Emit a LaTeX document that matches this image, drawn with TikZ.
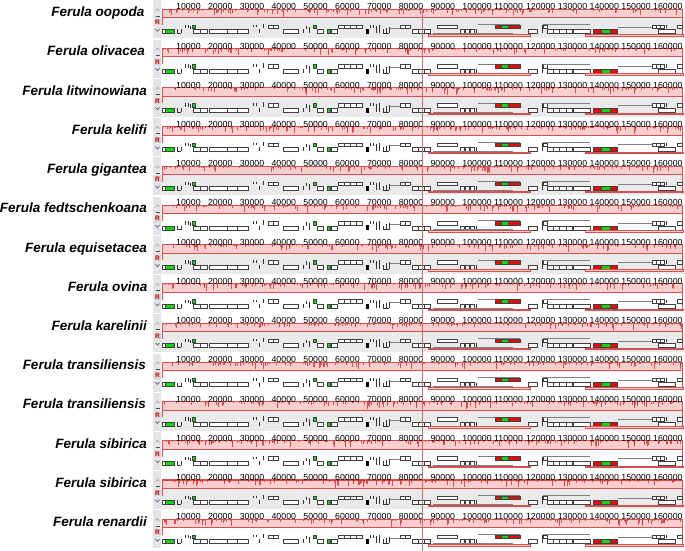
\documentclass[tikz,border=0pt]{standalone}
\usepackage{fontspec}
\setmainfont{Liberation Sans}
\definecolor{pinkfill}{RGB}{250,206,206}
\definecolor{lcbred}{RGB}{214,80,80}
\definecolor{spikered}{RGB}{205,40,40}
\definecolor{panelgray}{RGB}{234,234,234}
\definecolor{ctrlgray}{RGB}{228,228,228}
\definecolor{cursorred}{RGB}{200,110,110}
\definecolor{genegreen}{RGB}{20,210,20}
\definecolor{genered}{RGB}{235,10,10}
\definecolor{chevron}{RGB}{90,100,130}
\tikzset{
  gene/.style={draw=black!75,fill=white,line width=0.3pt},
  ggene/.style={draw=black!75,fill=genegreen,line width=0.3pt},
  rgene/.style={draw=black!75,fill=genered,line width=0.3pt},
  gtick/.style={draw=black!80,line width=0.45pt},
  featline/.style={draw=gray,line width=0.45pt},
  rbar/.style={draw=lcbred,fill=pinkfill,line width=0.5pt},
  lcb/.style={draw=lcbred,fill=pinkfill,line width=0.5pt},
  lcbedge/.style={draw=lcbred,line width=0.6pt},
  spike/.style={draw=spikered,line width=0.35pt,draw opacity=0.75},
  rulerlab/.style={font=\fontsize{8.8}{9}\selectfont,inner sep=0pt,anchor=base west},
  specieslab/.style={font=\fontsize{13.5}{15}\selectfont\bfseries\itshape,inner sep=0pt,anchor=base east},
}
\newcommand\annotrow{%
  % lower-strand boxes
  \foreach \a/\b in {162/174,193/200,200/207,209/227,227/237,237/248,283/298,317/323,331/337,412/418,418/424,424/430,460/464,465/469,470/474,528/537,547/553,553/559,559/566,566/572,573/590,658/675}
    {\path[gene] (\a,29.5) rectangle (\b,33.5);}
  \path[ggene] (165,29.5) rectangle (174,33.5);
  \path[ggene] (327,29.5) rectangle (330,33.5);
  \path[draw=black,fill=black] (366,29.5) rectangle (368,33.5);
  % upper-strand boxes
  \foreach \a/\b in {268/273,273/278,338/344,344/350,350/356,356/362,400/405,405/410,437/457,543/547,652/656,656/660,660/664,677/682}
    {\path[gene] (\a,25) rectangle (\b,28.5);}
  \path[ggene] (192,25) rectangle (195,28.5);
  \path[ggene] (313,25) rectangle (316,28.5);
  % small tick marks
  \foreach \a/\p/\q in {177/29.5/33.5,181/29.5/33.5,185/25/28.5,188/25/28.5,190/26/29.5,253/25/27.5,256/25/27.5,259.5/29.5/33.5,263/24/28.5,303/29.5/33.5,306/26/29.5,309/27/33.5,370/25/28,373/25/28,376/26/33.5,379/25/33.5,383/29.5/33.5,386/28/33.5,389/27/33.5,476/29.5/33.5,542/25/33.5,666/25/28.5}
    {\path[gtick] (\a,\p) -- (\a,\q);}
  \path[gtick] (177,33.5) -- (181,33.5);
  \path[gtick] (383,33.5) -- (389,33.5);
  % feature lines
  \path[featline] (390,28) -- (400,28);
  \path[featline] (433,33.5) -- (513,33.5);
  \path[featline] (478,24.5) -- (520,24.5);
  \path[featline] (543,24.5) -- (590,24.5);
  \path[featline] (618,27) -- (652,27);
  % red / green blocks
  \path[rgene] (495,25) rectangle (520,28.5);
  \path[ggene] (501,25) rectangle (508,28.5);
  \path[rgene] (593,29.5) rectangle (617,33.5);
  \path[ggene] (601,29.5) rectangle (610,33.5);
  % pink bars
  \path[rbar] (428,34.3) rectangle (530,35.8);
  \path[rbar] (585,34.3) rectangle (683,35.8);
}
\begin{document}
\begin{tikzpicture}[x=1pt,y=-1pt]
\useasboundingbox[fill=white] (0,0) rectangle (685,551);
\foreach \i in {0,...,13}{
  \begin{scope}[shift={(0,39.23*\i)}]
    % control column
    \path[fill=ctrlgray] (153,0.5) rectangle (161,38.5);
    \path[draw=gray!70,line width=0.6pt] (155.5,11) -- (157.5,8.8) -- (159.5,11);
    \path[draw=black!70,line width=0.8pt] (155.5,16) -- (159.5,16);
    \path[fill=gray!35] (154.5,19.5) rectangle (160.5,25.5);
    \node[name=r\i,inner sep=0pt,text=red!80!black,font=\fontsize{6.5}{7}\selectfont\bfseries] at (157.5,22.6) {R};
    \path[draw=chevron,line width=0.7pt] (155.5,29) -- (157.5,31.2) -- (159.5,29);
    % lower background
    \pgfmathtruncatemacro\parity{mod(\i,2)}
    \ifnum\parity=0
      \path[fill=panelgray] (161,17.5) rectangle (685,38.5);
    \fi
    % LCB band
    \path[lcb] (162,9) rectangle (682,17.5);
    \pgfmathsetseed{17*\i+5}
    \foreach \s in {1,...,200}{
      \pgfmathsetmacro\sx{162+520*rnd}
      \pgfmathsetmacro\sl{0.8+7.2*rnd*rnd}
      \path[spike] (\sx,9) -- ++(0,\sl);
    }
    \path[lcbedge] (162,9) -- (682,9);
    \path[lcbedge] (162,9) -- (162,25);
    \path[lcbedge] (682,9) -- (682,35);
    % ruler labels
    \foreach \k in {1,...,16}{
      \node[rulerlab,name=ruler-\i-\k] at ({176+(\k-1)*31.8},9.8) {\k0000};
    }
    % annotations
    \annotrow
  \end{scope}
}
% species labels
\foreach \i/\nm/\lx in {
  0/oopoda/144.5, 1/olivacea/145, 2/litwinowiana/147, 3/kelifi/147,
  4/gigantea/147, 5/fedtschenkoana/147, 6/equisetacea/147, 7/ovina/147.5,
  8/karelinii/147, 9/transiliensis/146, 10/transiliensis/146, 11/sibirica/147,
  12/sibirica/147, 13/renardii/147}{
  \node[specieslab,name=lab\i] at (\lx,{16.8+39.2*\i}) {Ferula \nm};
}
% cursor line
\coordinate (cur-top) at (422,8);
\coordinate (cur-bot) at (422,551);
\draw[cursorred,line width=0.5pt] (cur-top) -- (cur-bot);
\end{tikzpicture}
\end{document}
